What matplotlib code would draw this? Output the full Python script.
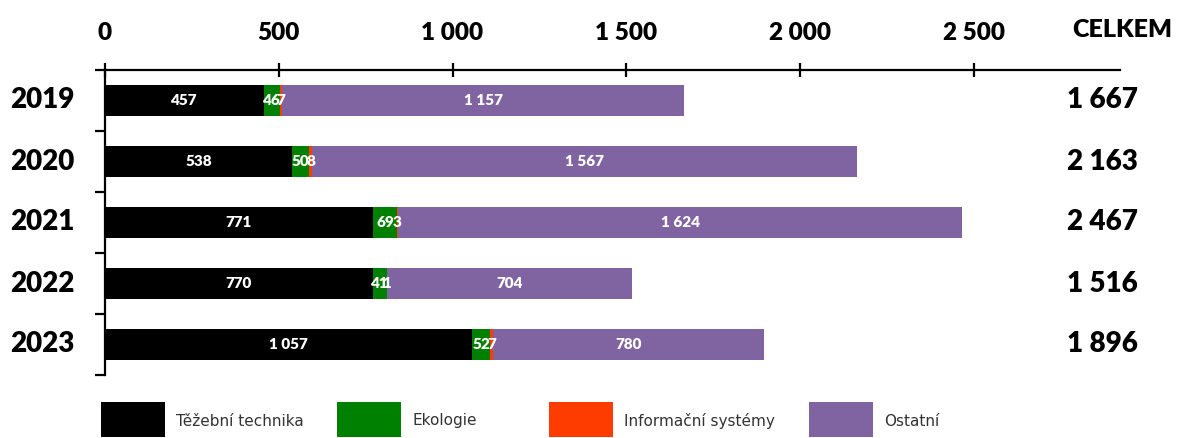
import matplotlib
matplotlib.use("Agg")
import matplotlib.pyplot as plt
from matplotlib.patches import Rectangle

years = ["2019", "2020", "2021", "2022", "2023"]
categories = ["Těžební technika", "Ekologie", "Informační systémy", "Ostatní"]
tezebni = [457, 538, 771, 770, 1057]
ekologie = [46, 50, 69, 41, 52]
informacni = [7, 8, 3, 1, 7]
ostatni = [1157, 1567, 1624, 704, 780]
celkem = [1667, 2163, 2467, 1516, 1896]
xticks = [0, 500, 1000, 1500, 2000, 2500]

colors = ["#000000", "#008000", "#FF3C00", "#8064A2"]
series = [tezebni, ekologie, informacni, ostatni]
FONT = "Lato"
WEIGHT = "heavy"


def fmt(v):
    return f"{v:,}".replace(",", " ")


W, H = 1182, 438
fig = plt.figure(figsize=(W / 100, H / 100), dpi=100)
ax = fig.add_axes([105 / W, 1 - 375 / H, 1015 / W, 305 / H])

ypos = list(range(len(years)))
left = [0] * len(years)
for vals, col in zip(series, colors):
    bars = ax.barh(ypos, vals, left=left, height=0.5, color=col, edgecolor="none")
    for b, v in zip(bars, vals):
        ax.text(b.get_x() + b.get_width() / 2, b.get_y() + b.get_height() / 2, fmt(v),
                ha="center", va="center", color="white", fontsize=11,
                fontweight=WEIGHT, family=FONT)
    left = [l + v for l, v in zip(left, vals)]

ax.set_xlim(0, 1015 / 0.3475)
ax.set_ylim(4.5, -0.5)

for s in ["right", "bottom"]:
    ax.spines[s].set_visible(False)
for s in ["top", "left"]:
    ax.spines[s].set_linewidth(1.6)

ax.xaxis.tick_top()
ax.set_xticks(xticks)
ax.set_xticklabels([fmt(t) for t in xticks], fontsize=17.5, fontweight=WEIGHT, family=FONT)
ax.tick_params(axis="x", direction="inout", length=10, width=1.6, pad=14)

ax.set_yticks([i - 0.5 for i in range(len(years) + 1)])
ax.set_yticklabels([])
ax.tick_params(axis="y", direction="out", length=7, width=1.6)

ytr = ax.get_yaxis_transform()
for i, y in enumerate(years):
    ax.text(-95 / 1015, i, y, transform=ytr, ha="left", va="center",
            fontsize=20, fontweight=WEIGHT, family=FONT)
    ax.text(1033 / 1015, i, fmt(celkem[i]), transform=ytr, ha="right", va="center",
            fontsize=20, fontweight=WEIGHT, family=FONT)

ax.text(1017 / 1015, 1 + 40 / 305, "CELKEM", transform=ax.transAxes, ha="center",
        va="center", fontsize=18, fontweight=WEIGHT, family=FONT)

# legend drawn by hand
box_x = [101, 337, 549, 809]
for x, lab, col in zip(box_x, categories, colors):
    fig.add_artist(Rectangle((x / W, 1 - 437 / H), 64 / W, 35 / H,
                             transform=fig.transFigure, color=col, linewidth=0))
    fig.text((x + 75) / W, 1 - 421 / H, lab, ha="left", va="center",
             fontsize=11, color="#333333", family="DejaVu Sans")

fig.savefig("out.png", dpi=100)
